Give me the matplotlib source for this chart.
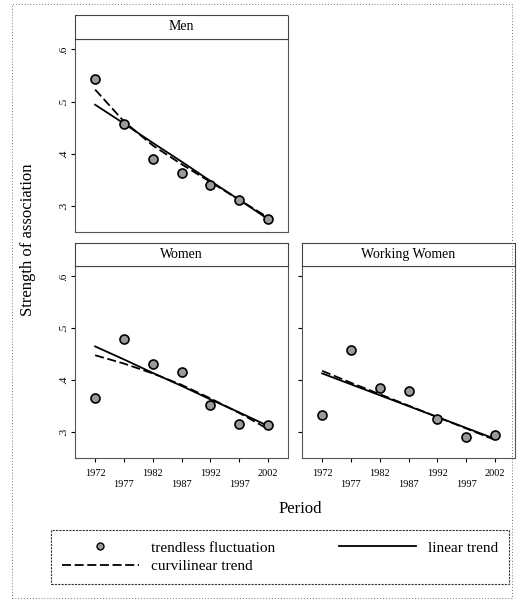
import numpy as np
import matplotlib.pyplot as plt
from matplotlib.lines import Line2D
from matplotlib.patches import Rectangle

plt.rcParams["font.family"] = ["Liberation Serif", "DejaVu Serif"]

years = [1972, 1977, 1982, 1987, 1992, 1997, 2002]
ytick_vals = [0.3, 0.4, 0.5, 0.6]
ytick_labels = [".3", ".4", ".5", ".6"]

# observed strength of association per period
men_obs = [0.544, 0.458, 0.390, 0.363, 0.340, 0.312, 0.275]
women_obs = [0.365, 0.479, 0.431, 0.416, 0.352, 0.315, 0.313]
working_obs = [0.333, 0.458, 0.385, 0.380, 0.325, 0.290, 0.294]

# fitted linear trends
men_lin = [0.494, 0.458, 0.421, 0.385, 0.348, 0.312, 0.275]
women_lin = [0.465, 0.440, 0.414, 0.389, 0.363, 0.338, 0.312]
working_lin = [0.413, 0.392, 0.371, 0.350, 0.329, 0.308, 0.287]

# fitted curvilinear trends
men_curv = [0.523, 0.462, 0.416, 0.380, 0.346, 0.312, 0.278]
women_curv = [0.448, 0.432, 0.413, 0.391, 0.365, 0.337, 0.306]
working_curv = [0.418, 0.395, 0.373, 0.351, 0.329, 0.307, 0.285]

panels = [
    ("Men", men_obs, men_lin, men_curv),
    ("Women", women_obs, women_lin, women_curv),
    ("Working Women", working_obs, working_lin, working_curv),
]

W, H = 518, 602
fig = plt.figure(figsize=(W / 100, H / 100), dpi=100)


def px_axes(x0, y0, x1, y1):
    return fig.add_axes([x0 / W, 1 - y1 / H, (x1 - x0) / W, (y1 - y0) / H])


# plot areas and title strips in pixel boxes
boxes = [
    ((75, 39, 288, 232), (75, 15, 288, 39)),
    ((75, 266, 288, 458), (75, 243, 288, 266)),
    ((302, 266, 515, 458), (302, 243, 515, 266)),
]

for k, ((name, obs, lin, curv), (pbox, sbox)) in enumerate(zip(panels, boxes)):
    ax = px_axes(*pbox)
    ax.plot(years, curv, color="black", lw=1.3, ls=(0, (5, 2)))
    ax.plot(years, lin, color="black", lw=1.3)
    ax.scatter(years, obs, s=42, facecolor="#9a9a9a", edgecolor="black",
               linewidth=1.2, zorder=3)
    ax.set_xlim(1968.5, 2005.5)
    ax.set_ylim(0.25, 0.62)
    ax.set_yticks(ytick_vals)
    for sp in ax.spines.values():
        sp.set_linestyle((0, (1, 1)))
        sp.set_linewidth(0.8)
        sp.set_color("#555555")
    ax.tick_params(axis="y", labelsize=8, length=3, pad=2)
    if k == 2:
        ax.set_yticklabels([])
    else:
        ax.set_yticklabels(ytick_labels, rotation=90, va="center")
    ax.set_xticks(years)
    if k == 0:
        ax.tick_params(axis="x", length=0, labelbottom=False)
    else:
        ax.tick_params(axis="x", labelsize=7.5, length=3, pad=5)
        ax.set_xticklabels([str(y) if i % 2 == 0 else "\n" + str(y)
                            for i, y in enumerate(years)])

    st = px_axes(*sbox)
    st.set_xticks([])
    st.set_yticks([])
    for sp in st.spines.values():
        sp.set_linestyle((0, (1, 1)))
        sp.set_linewidth(0.8)
        sp.set_color("#444444")
    st.spines["bottom"].set_linestyle("-")
    st.text(0.5, 0.5, name, ha="center", va="center", fontsize=10,
            transform=st.transAxes)

fig.text(28 / W, 1 - 240 / H, "Strength of association", rotation=90,
         ha="center", va="center", fontsize=12)
fig.text(300 / W, 1 - 509 / H, "Period", ha="center", va="center", fontsize=12)

handles = [
    Line2D([], [], ls="none", marker="o", markersize=5, markerfacecolor="#9a9a9a",
           markeredgecolor="black"),
    Line2D([], [], color="black", lw=1.3, ls=(0, (5, 2))),
    Line2D([], [], color="black", lw=1.3),
]
labels = ["trendless fluctuation", "curvilinear trend", "linear trend"]
leg = fig.legend(handles, labels, ncol=2, loc="center",
                 bbox_to_anchor=(280 / W, 1 - 557 / H), fontsize=11,
                 handlelength=5, columnspacing=4.2, handletextpad=0.8,
                 labelspacing=0.3, fancybox=False, edgecolor="black",
                 borderpad=0.7)
leg.get_frame().set_linewidth(0.8)
leg.get_frame().set_linestyle((0, (2, 1)))

# outer frame
fig.patches.append(Rectangle((12 / W, 4 / H), 500 / W, 594 / H,
                             transform=fig.transFigure, fill=False,
                             ls=(0, (1, 2)), lw=0.7, ec="#777777"))

fig.savefig("out.png", dpi=100)
